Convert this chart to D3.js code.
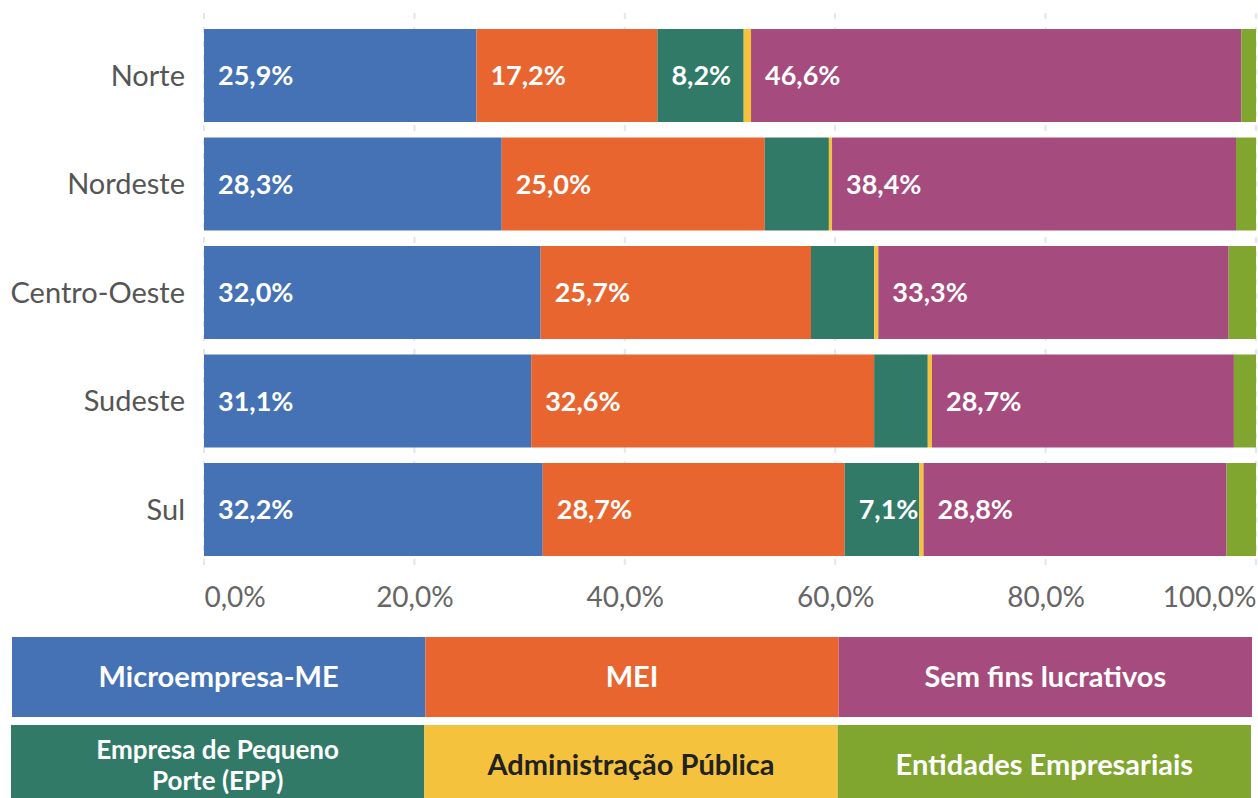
<!DOCTYPE html>
<html>
<head>
<meta charset="utf-8">
<script src="https://cdn.jsdelivr.net/npm/d3@7"></script>
<style>
  html, body { margin: 0; padding: 0; background: #ffffff; }
  svg { display: block; font-family: Lato, "Open Sans", sans-serif; }
</style>
</head>
<body>
<svg id="chart" width="1258" height="798"></svg>
<script>
// ---- data ----
const categories = ["Norte", "Nordeste", "Centro-Oeste", "Sudeste", "Sul"];
const seriesNames = ["Microempresa-ME", "MEI", "Empresa de Pequeno Porte (EPP)", "Administração Pública", "Sem fins lucrativos", "Entidades Empresariais"];
const microempresa = [25.9, 28.3, 32.0, 31.1, 32.2];
const mei = [17.2, 25.0, 25.7, 32.6, 28.7];
const epp = [8.2, 6.1, 6.0, 5.1, 7.1];
const adminPublica = [0.7, 0.3, 0.4, 0.4, 0.4];
const semFins = [46.6, 38.4, 33.3, 28.7, 28.8];
const entidades = [1.4, 1.9, 2.6, 2.1, 2.8];
const tickValues = [0, 20, 40, 60, 80, 100];

// ---- styles ----
const colors = ["#4472b5", "#e96530", "#317a67", "#f5c23e", "#a54b7d", "#80a630"];
const legendTextColors = ["#ffffff", "#ffffff", "#ffffff", "#222222", "#ffffff", "#ffffff"];
const legendOrder = [0, 1, 4, 2, 3, 5];
const legendLines = {
  "Empresa de Pequeno Porte (EPP)": ["Empresa de Pequeno", "Porte (EPP)"]
};

const svg = d3.select("#chart");

const seriesValues = [microempresa, mei, epp, adminPublica, semFins, entidades];
const rows = categories.map((c, i) => {
  const r = { cat: c };
  seriesNames.forEach((s, j) => r[s] = seriesValues[j][i]);
  return r;
});
const stacked = d3.stack().keys(seriesNames)(rows);

const x = d3.scaleLinear().domain([0, 100]).range([204, 1256]);
const y = d3.scaleBand().domain(categories).range([21.25, 563.75])
  .paddingInner(0.143).paddingOuter(0.0715);

// grid
svg.append("g").selectAll("line").data(tickValues).join("line")
  .attr("x1", d => x(d)).attr("x2", d => x(d))
  .attr("y1", 13).attr("y2", 566)
  .attr("stroke", "#e1e7f0").attr("stroke-width", 2)
  .attr("stroke-dasharray", "6,8");

// bars
const layer = svg.append("g").selectAll("g").data(stacked).join("g")
  .attr("fill", (d, i) => colors[i]);
layer.selectAll("rect").data(d => d.map(v => ({ v, cat: v.data.cat }))).join("rect")
  .attr("x", d => x(d.v[0]))
  .attr("width", d => x(d.v[1]) - x(d.v[0]))
  .attr("y", d => y(d.cat))
  .attr("height", y.bandwidth());

// value labels
const fmt = v => d3.format(".1f")(v).replace(".", ",") + "%";
const labelG = svg.append("g");
stacked.forEach((s, i) => {
  s.forEach(v => {
    const val = v[1] - v[0];
    if (val >= 7) {
      labelG.append("text")
        .attr("x", x(v[0]) + 14)
        .attr("y", y(v.data.cat) + y.bandwidth() / 2)
        .attr("dy", "0.36em")
        .attr("fill", "#ffffff")
        .attr("font-weight", "bold")
        .attr("font-size", 27)
        .text(fmt(val));
    }
  });
});

// category axis
svg.append("g").selectAll("text").data(categories).join("text")
  .attr("x", 185)
  .attr("y", d => y(d) + y.bandwidth() / 2)
  .attr("dy", "0.36em")
  .attr("text-anchor", "end")
  .attr("fill", "#555555")
  .attr("font-size", 29)
  .text(d => d);

// x axis labels
const xAxis = d3.axisBottom(x).tickValues(tickValues).tickSize(0)
  .tickFormat(d => d3.format(".1f")(d).replace(".", ",") + "%");
const xg = svg.append("g").attr("transform", "translate(0,584)").call(xAxis);
xg.select(".domain").remove();
xg.selectAll("text")
  .attr("font-family", "Lato, 'Open Sans', sans-serif")
  .attr("font-size", 28)
  .attr("fill", "#666666")
  .attr("text-anchor", (d, i) => i === 0 ? "start" : (i === tickValues.length - 1 ? "end" : "middle"));

// legend
const colW = (1252 - 12) / 3;
const legend = svg.append("g");
legendOrder.forEach((si, k) => {
  const col = k % 3, row = Math.floor(k / 3);
  const lx = 12 + col * colW - row * 1;
  const ly = 637 + row * 88;
  const g = legend.append("g").attr("transform", `translate(${lx},${ly})`);
  g.append("rect").attr("width", colW).attr("height", 80).attr("fill", colors[si]);
  const lines = legendLines[seriesNames[si]] || [seriesNames[si]];
  const multi = lines.length > 1;
  const fs = multi ? 26 : 29;
  const lh = 31;
  lines.forEach((ln, li) => {
    g.append("text")
      .attr("x", colW / 2)
      .attr("y", 40 + (li - (lines.length - 1) / 2) * lh)
      .attr("dy", "0.36em")
      .attr("text-anchor", "middle")
      .attr("fill", legendTextColors[si])
      .attr("font-weight", "bold")
      .attr("font-size", fs)
      .text(ln);
  });
});
</script>
</body>
</html>
